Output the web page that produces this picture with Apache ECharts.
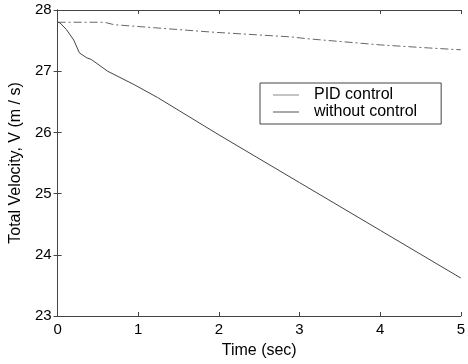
<!DOCTYPE html>
<html><head><meta charset="utf-8">
<script src="https://cdn.jsdelivr.net/npm/echarts@6/dist/echarts.min.js"></script>
<style>html,body{margin:0;padding:0;background:#fff}#c{width:468px;height:364px}</style>
</head><body><div id="c"></div>
<script>
const timePID = [0, 0.3, 0.58, 0.7, 1.2, 1.9, 2.9, 3.1, 4.0, 4.6, 5];
const velocityPID = [27.8, 27.8, 27.8, 27.76, 27.71, 27.64, 27.56, 27.53, 27.43, 27.38, 27.35];
const timeNoCtrl = [0, 0.03, 0.11, 0.2, 0.27, 0.36, 0.42, 0.62, 0.95, 1.24, 2, 3, 4, 5];
const velocityNoCtrl = [27.8, 27.79, 27.68, 27.51, 27.3, 27.22, 27.19, 27.0, 26.78, 26.57, 25.96, 25.18, 24.4, 23.62];
const xTicks = [0, 1, 2, 3, 4, 5];
const yTicks = [23, 24, 25, 26, 27, 28];
const seriesNames = ['PID control', 'without control'];

const pair = (t, v) => t.map((x, i) => [x, v[i]]);
const axisLine = {show: true, lineStyle: {color: '#444', width: 1}};
const tick = {show: true, inside: true, length: 4, lineStyle: {color: '#444'}};
const font = {fontFamily: 'Liberation Sans, Arial, sans-serif', color: '#000', fontSize: 15};

const chart = echarts.init(document.getElementById('c'), null, {renderer: 'canvas'});
chart.setOption({
  animation: false,
  backgroundColor: '#fff',
  grid: {left: 56, right: 6, top: 10, bottom: 46},
  legend: {
    show: true, orient: 'vertical', left: 260, top: 83, icon: 'rect', itemWidth: 26, itemHeight: 1, itemGap: 1,
    padding: [4, 24, 4, 13], borderColor: '#444', borderWidth: 1, backgroundColor: '#fff',
    textStyle: {fontFamily: font.fontFamily, fontSize: 16, color: '#000', padding: [0, 0, 0, 10]},
    data: seriesNames
  },
  xAxis: [{
    type: 'value', min: 0, max: 5, interval: 1, position: 'bottom',
    name: 'Time (sec)', nameLocation: 'middle', nameGap: 27,
    nameTextStyle: {...font, fontSize: 16},
    axisLine, axisTick: tick, splitLine: {show: false},
    axisLabel: {...font, margin: 6, formatter: v => xTicks.includes(v) ? String(v) : ''}
  }, {
    type: 'value', min: 0, max: 5, interval: 1, position: 'top',
    axisLine, axisTick: tick, axisLabel: {show: false}, splitLine: {show: false}
  }],
  yAxis: [{
    type: 'value', min: 23, max: 28, interval: 1, position: 'left',
    name: 'Total Velocity, V (m / s)', nameLocation: 'middle', nameGap: 29,
    nameTextStyle: {...font, fontSize: 16},
    axisLine, axisTick: tick, splitLine: {show: false},
    axisLabel: {...font, margin: 6, formatter: v => yTicks.includes(v) ? String(v) : ''}
  }, {
    type: 'value', min: 23, max: 28, interval: 1, position: 'right',
    axisLine, axisTick: tick, axisLabel: {show: false}, splitLine: {show: false}
  }],
  series: [{
    name: seriesNames[0], type: 'line', symbol: 'none', data: pair(timePID, velocityPID),
    lineStyle: {color: '#666', width: 1, type: [8, 3, 2, 3]}, itemStyle: {color: '#888'}
  }, {
    name: seriesNames[1], type: 'line', symbol: 'none', data: pair(timeNoCtrl, velocityNoCtrl),
    lineStyle: {color: '#444', width: 1}, itemStyle: {color: '#555'}
  }]
});
</script></body></html>
